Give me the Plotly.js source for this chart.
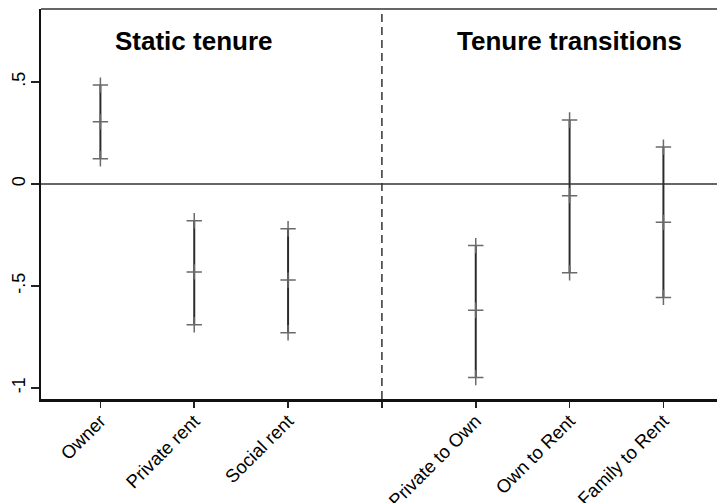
<!DOCTYPE html>
<html>
<head>
<meta charset="utf-8">
<script src="https://cdn.plot.ly/plotly-3.0.1.min.js"></script>
<style>html,body{margin:0;padding:0;background:#fff;}#chart{width:717px;height:503px;}</style>
</head>
<body>
<div id="chart"></div>
<script>
// Categories (a blank slot separates the two groups)
const categories = ["Owner", "Private rent", "Social rent", " ", "Private to Own", "Own to Rent", "Family to Rent"];
// Point estimates and 95% confidence bounds (null for the blank slot)
const estimate = [0.305, -0.431, -0.471, null, -0.619, -0.057, -0.188];
const upper    = [0.485, -0.180, -0.219, null, -0.302,  0.314,  0.181];
const lower    = [0.124, -0.690, -0.729, null, -0.949, -0.435, -0.556];
const yTickVals = [-1, -0.5, 0, 0.5];
const yTickText = ["-1", "-.5", "0", ".5"];
const panelTitles = ["Static tenure", "Tenure transitions"];

const xIdx = categories.map((c, i) => i);
const FONT = "Liberation Sans, Arial, sans-serif";
const barColor = "#2b2b2b";
const crossColor = "#6a6a6a";

const errPlus = estimate.map((m, i) => m === null ? null : upper[i] - m);
const errMinus = estimate.map((m, i) => m === null ? null : m - lower[i]);

const traces = [
  {
    x: xIdx, y: estimate, type: "scatter", mode: "markers",
    marker: {size: 1, color: "rgba(0,0,0,0)"},
    error_y: {type: "data", symmetric: false, array: errPlus, arrayminus: errMinus,
              width: 0, thickness: 2, color: barColor},
    hoverinfo: "skip", showlegend: false
  }
];
[lower, estimate, upper].forEach(arr => {
  traces.push({
    x: xIdx, y: arr, type: "scatter", mode: "markers",
    marker: {symbol: "cross-thin", size: 11, line: {width: 1.5, color: crossColor}, color: crossColor},
    showlegend: false, hoverinfo: "skip"
  });
});

const sepIndex = categories.indexOf(" ");
const layout = {
  width: 717, height: 503,
  margin: {l: 41, r: 0, t: 9, b: 104, pad: 0},
  paper_bgcolor: "#fff", plot_bgcolor: "#fff",
  showlegend: false,
  font: {family: FONT, size: 18, color: "#000"},
  xaxis: {
    range: [-0.633, 6.571],
    tickvals: xIdx, ticktext: categories,
    tickangle: -45,
    ticks: "outside", ticklen: 6, tickwidth: 1.5, tickcolor: "#222",
    showline: true, linewidth: 3, linecolor: "#111",
    showgrid: false, zeroline: false,
    ticklabelstandoff: -5,
    tickfont: {family: FONT, size: 18.5, color: "#000"}
  },
  yaxis: {
    range: [-1.054, 0.858],
    tickvals: yTickVals, ticktext: yTickText,
    tickangle: -90,
    ticks: "outside", ticklen: 8, tickwidth: 1.5, tickcolor: "#222",
    showline: true, linewidth: 2, linecolor: "#111",
    showgrid: false, zeroline: false,
    ticklabelstandoff: -1,
    tickfont: {family: FONT, size: 18, color: "#000"}
  },
  shapes: [
    {type: "line", xref: "paper", yref: "y", x0: 0, x1: 1, y0: 0, y1: 0,
     line: {color: "#333", width: 1.5}},
    {type: "line", xref: "x", yref: "paper", x0: sepIndex, x1: sepIndex, y0: 0, y1: 1,
     line: {color: "#333", width: 1.5, dash: "8px,5px"}},
    {type: "line", xref: "paper", yref: "paper", x0: 0, x1: 1, y0: 1, y1: 1,
     line: {color: "#333", width: 1.5}}
  ],
  annotations: [
    {x: 1, y: 0.70, xref: "x", yref: "y", text: "<b>" + panelTitles[0] + "</b>", showarrow: false,
     xanchor: "center", yanchor: "middle", font: {family: FONT, size: 26, color: "#000"}},
    {x: 5, y: 0.70, xref: "x", yref: "y", text: "<b>" + panelTitles[1] + "</b>", showarrow: false,
     xanchor: "center", yanchor: "middle", font: {family: FONT, size: 26, color: "#000"}}
  ]
};

Plotly.newPlot("chart", traces, layout, {displayModeBar: false, staticPlot: true});
</script>
</body>
</html>
